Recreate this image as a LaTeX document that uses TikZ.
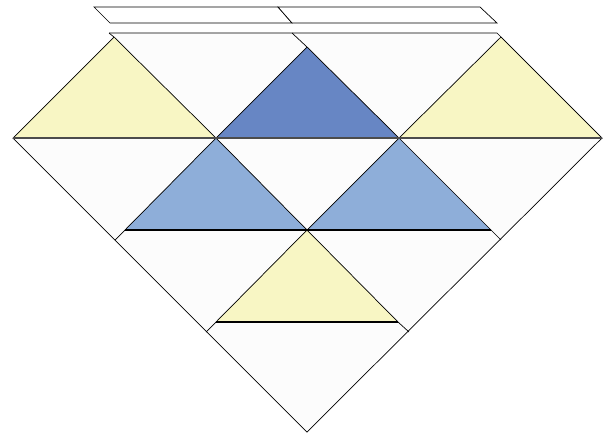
\documentclass[tikz,border=0pt]{standalone}
\usepackage{tikz}
\usetikzlibrary{calc}
\usepackage{xcolor}
\definecolor{paleyellow}{HTML}{F8F6C4}
\definecolor{deepblue}{HTML}{6786C4}
\definecolor{softblue}{HTML}{8EAED9}

\begin{document}
\begin{tikzpicture}[x=1pt, y=-1pt,
    edge/.style={draw=black, line width=0.7pt},
    base/.style={draw=black!70, line width=1.6pt},
    tile/.style={edge, line join=miter}]

    \useasboundingbox (0,0) rectangle (612,432);

    % 1. Define the coordinates
    \coordinate (Pa) at (94,7);
    \coordinate (Pb) at (278,7);
    \coordinate (Pc) at (480,7);
    \coordinate (Pd) at (497,23);
    \coordinate (Pe) at (292,23);
    \coordinate (Pf) at (110,23);

    \coordinate (TL) at (109,33);
    \coordinate (TM) at (292,33);
    \coordinate (TR) at (497,33);

    \coordinate (L) at (13,138);
    \coordinate (M1) at (216,138);
    \coordinate (M2) at (399,138);
    \coordinate (R) at (602,138);
    \coordinate (Bot) at (307,432);

    \coordinate (Y1) at (114,37);
    \coordinate (DB) at (307,47);
    \coordinate (Y2) at (501,37);

    \coordinate (LB1) at (125,230);
    \coordinate (MC) at (307,230);
    \coordinate (LB2) at (491,230);
    \coordinate (EL1) at (115,240);
    \coordinate (ER1) at (501,240);

    \coordinate (Y3a) at (216,322);
    \coordinate (Y3b) at (398,322);
    \coordinate (EL2) at (206,332);
    \coordinate (ER2) at (409,332);

    % 2. The two slanted bars on top
    \draw[tile, fill=white] (Pa) -- (Pb) -- (Pe) -- (Pf) -- cycle;
    \draw[tile, fill=white] (Pb) -- (Pc) -- (Pd) -- (Pe) -- cycle;

    % 3. White body of the diamond
    \fill[white!99!black] (TL) -- (TR) -- (R) -- (Bot) -- (L) -- (Y1) -- cycle;

    % 4. Coloured triangles, row by row
    \draw[tile, fill=paleyellow] (L) -- (Y1) -- (M1) -- cycle;
    \draw[tile, fill=deepblue] (M1) -- (DB) -- (M2) -- cycle;
    \draw[tile, fill=paleyellow] (M2) -- (Y2) -- (R) -- cycle;

    \draw[tile, fill=softblue] (LB1) -- (M1) -- (MC) -- cycle;
    \draw[tile, fill=softblue] (MC) -- (M2) -- (LB2) -- cycle;

    \draw[tile, fill=paleyellow] (Y3a) -- (MC) -- (Y3b) -- cycle;

    % 5. Outline and the small overshooting edges
    \draw[edge] (TL) -- (TR) -- (R) -- (Bot) -- (L);
    \draw[edge] (TL) -- (Y1);
    \draw[edge] (TM) -- (DB);
    \draw[edge] (LB1) -- (EL1);
    \draw[edge] (LB2) -- (ER1);
    \draw[edge] (Y3a) -- (EL2);
    \draw[edge] (Y3b) -- (ER2);

    % 6. Base lines
    \draw[base] (L) -- (R);
    \draw[edge, line width=1.1pt] (LB1) -- (LB2);
    \draw[edge, line width=1.1pt] (Y3a) -- (Y3b);

\end{tikzpicture}
\end{document}
